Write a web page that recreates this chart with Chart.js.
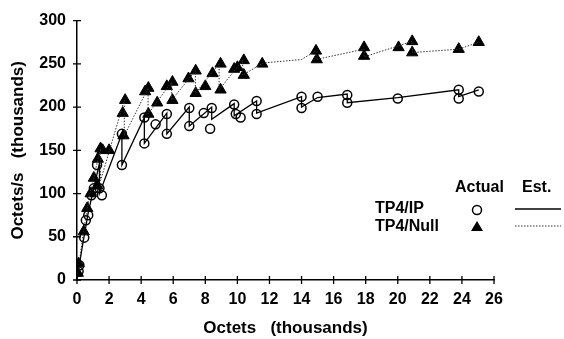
<!DOCTYPE html>
<html>
<head>
<meta charset="utf-8">
<script src="https://cdn.jsdelivr.net/npm/chart.js@4"></script>
<style>
  html, body { margin: 0; padding: 0; background: #fff; }
  #wrap { width: 564px; height: 339px; }
</style>
</head>
<body>
<div id="wrap"><canvas id="c" width="564" height="339"></canvas></div>
<script>
/* ========= DATA ========= */
const xTicks = [0, 2, 4, 6, 8, 10, 12, 14, 16, 18, 20, 22, 24, 26];
const yTicks = [0, 50, 100, 150, 200, 250, 300];

// TP4/IP measured (circles)
const ipX = [0.1, 0.15, 0.45, 0.55, 0.7, 0.9, 1.05, 1.25, 1.4, 1.55, 2.8, 2.8, 4.2, 4.2, 4.9, 5.6, 5.6, 7.0, 7.0, 7.9, 8.3, 8.4, 9.8, 9.9, 10.2, 11.2, 11.2, 14.0, 14.0, 15.0, 16.85, 16.85, 20.0, 23.8, 23.8, 25.05];
const ipY = [10, 17, 49, 69, 75, 98, 106, 133, 106, 98, 169, 133, 188, 158, 180, 192, 169, 199, 178, 193, 175, 199, 203, 192, 188, 207, 192, 212, 199, 212, 214, 205, 210, 220, 210, 218];

// TP4/Null measured (triangles)
const nullX = [0.05, 0.1, 0.42, 0.64, 0.85, 1.05, 1.26, 1.3, 1.47, 1.6, 2.0, 2.85, 2.9, 3.0, 4.25, 4.45, 4.45, 5.0, 5.6, 5.95, 5.95, 6.95, 7.4, 7.4, 8.0, 8.45, 8.95, 8.95, 9.8, 10.0, 10.4, 10.4, 11.55, 14.9, 14.95, 17.9, 17.9, 20.05, 20.9, 20.9, 23.8, 25.05];
const nullY = [8, 19, 56, 83, 100, 118, 109, 140, 152, 150, 150, 193, 167, 208, 218, 222, 192, 205, 224, 229, 208, 233, 242, 216, 224, 239, 250, 220, 244, 246, 254, 237, 250, 265, 255, 269, 259, 269, 276, 263, 267, 275];

// estimated curves (sawtooth)
const ipEstX = [0, 0.3, 0.7, 1.4, 1.4, 2.8, 2.8, 4.2, 4.2, 5.6, 5.6, 7.0, 7.0, 8.4, 8.4, 9.8, 9.8, 11.2, 11.2, 14.0, 14.0, 15.0, 16.85, 16.85, 20.0, 23.8, 23.8, 25.05];
const ipEstY = [0, 35, 78, 135, 100, 169, 133, 188, 158, 193, 169, 200, 178, 200, 186, 204, 190, 207, 193, 212, 200, 211, 215, 205, 211, 220, 212, 220];

const nullEstX = [0, 0.4, 0.8, 1.47, 1.47, 2.95, 2.95, 4.43, 4.43, 5.9, 5.9, 7.38, 7.38, 8.86, 8.86, 10.33, 10.33, 11.6, 14.0, 14.9, 14.9, 17.9, 17.9, 20.9, 20.9, 23.8, 25.05];
const nullEstY = [0, 56, 100, 152, 115, 208, 167, 222, 192, 229, 208, 242, 216, 250, 220, 254, 237, 251, 255, 265, 255, 267, 258, 276, 263, 267, 275];

const pts = (xs, ys) => xs.map((x, i) => ({x, y: ys[i]}));

const FONT = '"Liberation Sans", Arial, Helvetica, sans-serif';

/* ========= PLUGIN: crossing ticks + legend ========= */
const extras = {
  id: 'extras',
  afterDraw(chart) {
    const {ctx, scales: {x, y}} = chart;
    const ax = x.getPixelForValue(0), ay = y.getPixelForValue(0);
    ctx.save();
    ctx.strokeStyle = '#000'; ctx.lineWidth = 1.3;
    ctx.beginPath();
    xTicks.forEach(v => { const p = x.getPixelForValue(v); ctx.moveTo(p, ay - 4); ctx.lineTo(p, ay + 4); });
    yTicks.forEach(v => { const p = y.getPixelForValue(v); ctx.moveTo(ax - 4, p); ctx.lineTo(ax + 4, p); });
    ctx.stroke();

    // legend
    ctx.fillStyle = '#000';
    ctx.font = 'bold 16px ' + FONT;
    ctx.textBaseline = 'middle';
    ctx.textAlign = 'left';
    ctx.fillText('Actual', 455, 188);
    ctx.fillText('Est.', 522, 188);
    ctx.fillText('TP4/IP', 375, 209);
    ctx.fillText('TP4/Null', 375, 227);

    ctx.lineWidth = 1.5;
    ctx.beginPath(); ctx.arc(477, 210, 4.5, 0, Math.PI * 2); ctx.stroke();
    ctx.beginPath(); ctx.moveTo(477, 221); ctx.lineTo(483, 231); ctx.lineTo(471, 231); ctx.closePath(); ctx.fill();

    ctx.lineWidth = 1.3;
    ctx.beginPath(); ctx.moveTo(515, 209); ctx.lineTo(561, 209); ctx.stroke();
    ctx.lineWidth = 1; ctx.strokeStyle = '#333'; ctx.setLineDash([1.5, 1.5]);
    ctx.beginPath(); ctx.moveTo(515, 226); ctx.lineTo(561, 226); ctx.stroke();
    ctx.restore();
  }
};

/* ========= CHART ========= */
new Chart(document.getElementById('c'), {
  type: 'scatter',
  data: {
    datasets: [
      { label: 'TP4/IP Est.', data: pts(ipEstX, ipEstY), showLine: true, pointRadius: 0,
        borderColor: '#000', borderWidth: 1.3, fill: false },
      { label: 'TP4/Null Est.', data: pts(nullEstX, nullEstY), showLine: true, pointRadius: 0,
        borderColor: '#333', borderWidth: 1, borderDash: [1.5, 1.5], fill: false },
      { label: 'TP4/IP', data: pts(ipX, ipY), pointStyle: 'circle', pointRadius: 4.5,
        backgroundColor: 'rgba(255,255,255,0)', borderColor: '#000', borderWidth: 1.5 },
      { label: 'TP4/Null', data: pts(nullX, nullY), pointStyle: 'triangle', pointRadius: 6.5,
        backgroundColor: '#000', borderColor: '#000', borderWidth: 1 }
    ]
  },
  options: {
    responsive: false,
    animation: false,
    layout: { padding: { left: 0, right: 70, top: 16, bottom: 0 } },
    plugins: { legend: { display: false }, tooltip: { enabled: false } },
    scales: {
      x: {
        type: 'linear', min: 0, max: 26,
        afterFit: s => { s.height = 59; },
        afterBuildTicks: s => { s.ticks = xTicks.map(v => ({value: v})); },
        grid: { drawOnChartArea: false, drawTicks: false },
        border: { display: true, color: '#000', width: 1.5 },
        ticks: { color: '#000', padding: 10, maxRotation: 0, autoSkip: false,
                  font: { family: FONT, size: 16, weight: 'bold' } },
        title: { display: true, text: 'Octets   (thousands)', color: '#000',
                 padding: { top: 2, bottom: 0 },
                 font: { family: FONT, size: 17, weight: 'bold' } }
      },
      y: {
        type: 'linear', min: 0, max: 300,
        afterFit: s => { s.width = 77; },
        afterBuildTicks: s => { s.ticks = yTicks.map(v => ({value: v})); },
        grid: { drawOnChartArea: false, drawTicks: false },
        border: { display: true, color: '#000', width: 1.5 },
        ticks: { color: '#000', padding: 11,
                 font: { family: FONT, size: 16, weight: 'bold' } },
        title: { display: true, text: 'Octets/s   (thousands)', color: '#000',
                 padding: { top: 8, bottom: 0 },
                 font: { family: FONT, size: 17, weight: 'bold' } }
      }
    }
  },
  plugins: [extras]
});
</script>
</body>
</html>
